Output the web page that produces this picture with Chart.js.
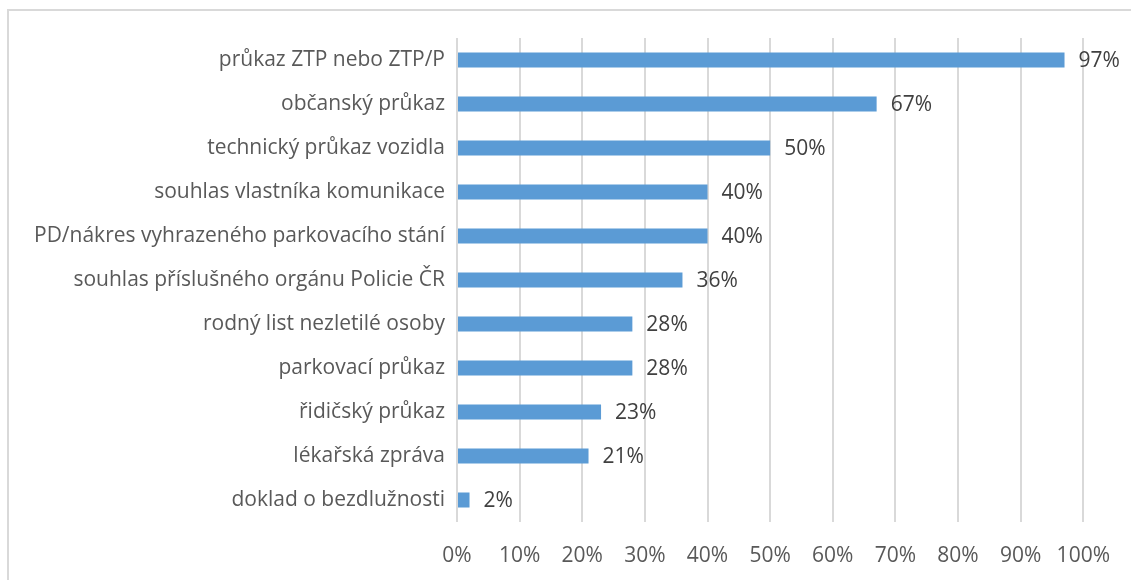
<!DOCTYPE html>
<html lang="cs">
<head>
  <meta charset="UTF-8">
  <title>Doklady</title>
  <script src="https://cdn.jsdelivr.net/npm/chart.js"></script>
  <style>
    body { margin: 0; background: #fff; overflow: hidden; }
    #ramecek {
      position: absolute; left: 7px; top: 9px; width: 1200px; height: 700px;
      border-top: 2px solid #d9d9d9; border-left: 2px solid #d9d9d9;
    }
    #graf { position: absolute; left: 0; top: 0; }
  </style>
</head>
<body>
  <div id="ramecek"></div>
  <canvas id="graf" width="1131" height="580"></canvas>
  <script>
    const kategorie = [
      'průkaz ZTP nebo ZTP/P',
      'občanský průkaz',
      'technický průkaz vozidla',
      'souhlas vlastníka komunikace',
      'PD/nákres vyhrazeného parkovacího stání',
      'souhlas příslušného orgánu Policie ČR',
      'rodný list nezletilé osoby',
      'parkovací průkaz',
      'řidičský průkaz',
      'lékařská zpráva',
      'doklad o bezdlužnosti'
    ];
    const hodnoty = [97, 67, 50, 40, 40, 36, 28, 28, 23, 21, 2];

    const pisma = '"Open Sans", Lato, sans-serif';

    // popisky hodnot za koncem sloupce
    const popisky = {
      id: 'popisky',
      afterDatasetsDraw(chart) {
        const ctx = chart.ctx;
        const meta = chart.getDatasetMeta(0);
        ctx.save();
        ctx.font = '21px ' + pisma;
        ctx.fillStyle = '#404040';
        ctx.textAlign = 'left';
        ctx.textBaseline = 'middle';
        meta.data.forEach((bar, i) => {
          ctx.fillText(hodnoty[i] + '%', bar.x + 14, bar.y + 1);
        });
        ctx.restore();
      }
    };

    new Chart(document.getElementById('graf'), {
      type: 'bar',
      data: {
        labels: kategorie,
        datasets: [{
          data: hodnoty,
          backgroundColor: '#5b9bd5',
          barPercentage: 0.34,
          categoryPercentage: 1
        }]
      },
      options: {
        indexAxis: 'y',
        responsive: false,
        animation: false,
        layout: { padding: { top: 38, right: 45, left: 0, bottom: 0 } },
        plugins: { legend: { display: false }, tooltip: { enabled: false } },
        scales: {
          x: {
            min: 0, max: 100,
            afterFit(scale) { scale.height = 58; },
            ticks: {
              stepSize: 10,
              padding: 21,
              color: '#595959',
              font: { family: pisma, size: 21 },
              callback: v => v + '%'
            },
            grid: { color: '#d9d9d9', lineWidth: 2, drawTicks: false },
            border: { display: false }
          },
          y: {
            afterFit(scale) { scale.width = 457; },
            ticks: {
              padding: 12,
              color: '#595959',
              font: { family: pisma, size: 21 }
            },
            grid: { display: false, drawTicks: false },
            border: { display: false }
          }
        }
      },
      plugins: [popisky]
    });
  </script>
</body>
</html>
